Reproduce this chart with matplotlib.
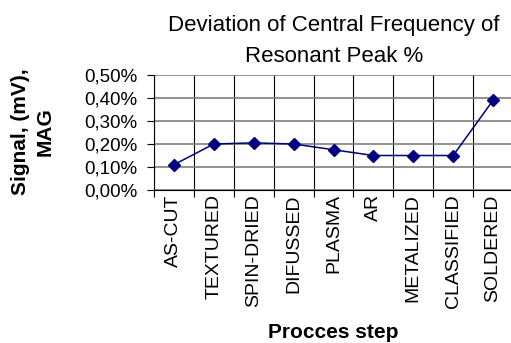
import numpy as np
import matplotlib
matplotlib.use("Agg")
from matplotlib import pyplot as plt
from matplotlib.ticker import FuncFormatter, FixedLocator

# data
steps = ['AS-CUT', 'TEXTURED', 'SPIN-DRIED', 'DIFUSSED', 'PLASMA',
         'AR', 'METALIZED', 'CLASSIFIED', 'SOLDERED']
deviation = [0.11, 0.20, 0.205, 0.20, 0.175, 0.15, 0.15, 0.15, 0.39]  # in %
y_ticks = [0.0, 0.1, 0.2, 0.3, 0.4, 0.5]

plt.rcParams['font.family'] = ['Liberation Sans', 'DejaVu Sans']

W, H = 511, 343
fig = plt.figure(figsize=(W / 100, H / 100), dpi=100)
ax = fig.add_axes([154 / W, 1 - 190 / H, 359 / W, 115 / H])

x = np.arange(len(steps))
ax.plot(x, deviation, '-', color='#000080', lw=1.1,
        marker='D', markersize=6.5, markerfacecolor='#000080',
        markeredgecolor='#000080', zorder=3)

ax.set_xlim(-0.5, len(steps) - 0.5)
ax.set_ylim(y_ticks[0], y_ticks[-1])

# category labels at the centres, tick marks / grid at the boundaries
ax.set_xticks(x)
ax.set_xticklabels(steps, rotation=90, va='top', ha='center', fontsize=14)
ax.tick_params(axis='x', which='major', length=0, pad=3)
ax.xaxis.set_minor_locator(FixedLocator(np.arange(-0.5, len(steps), 1.0)))
ax.tick_params(axis='x', which='minor', length=5, width=0.8, color='black')
ax.grid(axis='x', which='minor', color='black', lw=0.8)

ax.set_yticks(y_ticks)
ax.yaxis.set_major_formatter(FuncFormatter(lambda v, p: f'{v:.2f}%'.replace('.', ',')))
ax.tick_params(axis='y', length=5, width=0.8, pad=7, labelsize=13.5, color='black')
ax.grid(axis='y', which='major', color='#808080', lw=1.2)
ax.set_axisbelow(True)

for side in ['top', 'right']:
    ax.spines[side].set_visible(False)
for side in ['left', 'bottom']:
    ax.spines[side].set_color('black')
    ax.spines[side].set_linewidth(0.8)

fig.text(334 / W, 1 - 15 / H, 'Deviation of Central Frequency of\nResonant Peak %',
         ha='center', va='top', fontsize=16, linespacing=1.6)
fig.text(33 / W, 1 - 132 / H, 'Signal, (mV),\nMAG', rotation=90,
         ha='center', va='center', fontsize=15, fontweight='bold',
         multialignment='center', linespacing=1.35)
fig.text(333 / W, 1 - 338 / H, 'Procces step', ha='center', va='baseline',
         fontsize=15, fontweight='bold')

fig.savefig('out.png', dpi=100)
